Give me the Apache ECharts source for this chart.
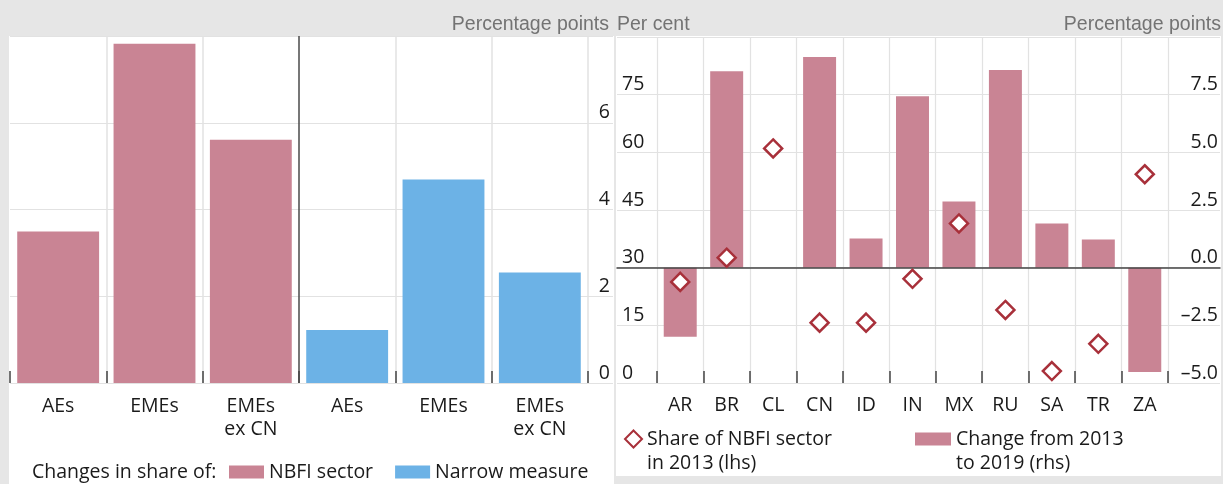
<!DOCTYPE html>
<html><head><meta charset="utf-8">
<script src="https://cdn.jsdelivr.net/npm/echarts@6/dist/echarts.min.js"></script>
<style>html,body{margin:0;padding:0;background:#e6e6e6}#c{width:1223px;height:484px}</style>
</head><body><div id="c"></div>
<script>
// ---- data ----
const leftCategories = ['AEs', 'EMEs', 'EMEs\nex CN', 'AEs', 'EMEs', 'EMEs\nex CN'];
const nbfiChange = [3.49, 7.82, 5.61, null, null, null];
const narrowChange = [null, null, null, 1.22, 4.69, 2.55];
const leftTickValues = [0, 2, 4, 6, 8];

const countries = ['AR', 'BR', 'CL', 'CN', 'ID', 'IN', 'MX', 'RU', 'SA', 'TR', 'ZA'];
const share2013 = [26.3, 32.6, 61.0, 15.7, 15.7, 27.1, 41.5, 19.0, 3.1, 10.2, 54.3];
const change2013to2019 = [-3.0, 8.52, null, 9.13, 1.26, 7.43, 2.87, 8.57, 1.91, 1.22, -4.52];
const lhsTickValues = [0, 15, 30, 45, 60, 75, 90];
const rhsTickValues = [-5, -2.5, 0, 2.5, 5, 7.5, 10];

// ---- style ----
const FONT = "'Open Sans', sans-serif";
const HFONT = "'Liberation Sans', Arial, sans-serif";
const PINK = '#c98494', BLUE = '#6cb2e6', DIAMOND = '#a8303a';
const GRID_L = '#e2e2e2', TXT = '#1a1a1a';
const FS = 19.5;
const first = a => a[0], last = a => a[a.length - 1];
const step = a => a[1] - a[0];
const fmtDash = v => (v < 0 ? '\u2013' + Math.abs(v).toFixed(1) : v.toFixed(1));

const lblBase = { color: TXT, fontFamily: FONT, fontSize: FS };
const tickStyle = { show: true, inside: true, length: 12, interval: 0, lineStyle: { color: '#444', width: 1.5 } };

const chart = echarts.init(document.getElementById('c'), null, { renderer: 'canvas' });
chart.setOption({
  backgroundColor: '#e6e6e6',
  animation: false,
  graphic: [
    { type: 'rect', z: -10, silent: true, shape: { x: 9, y: 36, width: 605, height: 448 }, style: { fill: '#fff' } },
    { type: 'rect', z: -10, silent: true, shape: { x: 616, y: 36, width: 605, height: 440 }, style: { fill: '#fff' } },
    { type: 'text', silent: true, style: { text: 'Percentage points', x: 609, y: 25, align: 'right', textAlign: 'right', verticalAlign: 'middle', textVerticalAlign: 'middle', font: '19.5px ' + HFONT, fill: '#737373' } },
    { type: 'text', silent: true, style: { text: 'Per cent', x: 617, y: 25, align: 'left', textAlign: 'left', verticalAlign: 'middle', textVerticalAlign: 'middle', font: '19.5px ' + HFONT, fill: '#737373' } },
    { type: 'text', silent: true, style: { text: 'Percentage points', x: 1221, y: 25, align: 'right', textAlign: 'right', verticalAlign: 'middle', textVerticalAlign: 'middle', font: '19.5px ' + HFONT, fill: '#737373' } },
    { type: 'text', silent: true, style: { text: 'Changes in share of:', x: 32, y: 472, align: 'left', textAlign: 'left', verticalAlign: 'middle', textVerticalAlign: 'middle', font: FS + 'px ' + FONT, fill: TXT } }
  ],
  grid: [
    { left: 10, top: 36, width: 603, height: 347 },   // 0: left panel gridlines
    { left: 10, top: 36, width: 578, height: 347 },   // 1: left panel data
    { left: 617, top: 37, width: 603, height: 346 },  // 2: right panel gridlines + zero line
    { left: 657, top: 37, width: 511, height: 346 }   // 3: right panel data
  ],
  xAxis: [
    { type: 'value', gridIndex: 0, min: 0, max: 1, show: false },
    { type: 'category', gridIndex: 1, data: leftCategories, boundaryGap: true,
      axisLine: { show: false }, axisTick: tickStyle,
      axisLabel: Object.assign({ margin: 12, lineHeight: 23, interval: 0 }, lblBase),
      splitLine: { show: true, interval: 0, lineStyle: { color: ['rgba(0,0,0,0)', GRID_L, GRID_L, '#4a4a4a', GRID_L, GRID_L, GRID_L], width: 1.5 } } },
    { type: 'value', gridIndex: 2, min: 0, max: 1, z: 5,
      axisLine: { show: true, onZero: true, lineStyle: { color: '#444', width: 1.5 } },
      axisTick: { show: false }, axisLabel: { show: false }, splitLine: { show: false } },
    { type: 'category', gridIndex: 3, data: countries, boundaryGap: true,
      axisLine: { show: false }, axisTick: tickStyle,
      axisLabel: Object.assign({ margin: 12, interval: 0 }, lblBase),
      splitLine: { show: true, interval: 0, lineStyle: { color: GRID_L, width: 1.2 } } }
  ],
  yAxis: [
    { type: 'value', gridIndex: 0, min: first(leftTickValues), max: last(leftTickValues), interval: step(leftTickValues),
      axisLabel: { show: false }, axisLine: { show: false }, axisTick: { show: false },
      splitLine: { show: true, lineStyle: { color: GRID_L, width: 1.2 } } },
    { type: 'value', gridIndex: 1, position: 'right', min: first(leftTickValues), max: last(leftTickValues), interval: step(leftTickValues),
      axisLine: { show: false }, axisTick: { show: false }, splitLine: { show: false },
      axisLabel: Object.assign({ align: 'right', margin: 22, verticalAlign: 'bottom',
        formatter: v => (v === last(leftTickValues) ? '' : String(v)) }, lblBase) },
    { type: 'value', gridIndex: 2, min: first(rhsTickValues), max: last(rhsTickValues), interval: step(rhsTickValues),
      axisLabel: { show: false }, axisLine: { show: false }, axisTick: { show: false },
      splitLine: { show: true, lineStyle: { color: GRID_L, width: 1.2 } } },
    { type: 'value', gridIndex: 3, position: 'left', min: first(lhsTickValues), max: last(lhsTickValues), interval: step(lhsTickValues),
      axisLine: { show: false }, axisTick: { show: false }, splitLine: { show: false },
      axisLabel: Object.assign({ align: 'left', margin: 35, verticalAlign: 'bottom',
        formatter: v => (v === last(lhsTickValues) ? '' : String(v)) }, lblBase) },
    { type: 'value', gridIndex: 3, position: 'right', min: first(rhsTickValues), max: last(rhsTickValues), interval: step(rhsTickValues),
      axisLine: { show: false }, axisTick: { show: false }, splitLine: { show: false },
      axisLabel: Object.assign({ align: 'right', margin: 50, verticalAlign: 'bottom',
        formatter: v => (v === last(rhsTickValues) ? '' : fmtDash(v)) }, lblBase) }
  ],
  legend: [
    { data: ['NBFI sector', 'Narrow measure'], left: 229, top: 462, padding: 0, itemWidth: 35, itemHeight: 13, itemGap: 22,
      icon: 'rect', selectedMode: false, textStyle: { fontFamily: FONT, fontSize: FS, color: TXT } },
    { data: ['Share of NBFI sector\nin 2013 (lhs)'], left: 624, top: 403, padding: 0, itemWidth: 17, itemHeight: 17,
      selectedMode: false, formatter: n => '\n' + n,
      textStyle: { fontFamily: FONT, fontSize: FS, color: TXT, lineHeight: 24 } },
    { data: ['Change from 2013\nto 2019 (rhs)'], left: 915, top: 403, padding: 0, itemWidth: 36, itemHeight: 13, icon: 'rect',
      selectedMode: false, formatter: n => '\n' + n,
      textStyle: { fontFamily: FONT, fontSize: FS, color: TXT, lineHeight: 24 } }
  ],
  series: [
    { name: 'NBFI sector', type: 'bar', xAxisIndex: 1, yAxisIndex: 1, data: nbfiChange, barWidth: '85%', barGap: '-100%', itemStyle: { color: PINK } },
    { name: 'Narrow measure', type: 'bar', xAxisIndex: 1, yAxisIndex: 1, data: narrowChange, barWidth: '85%', barGap: '-100%', itemStyle: { color: BLUE } },
    { name: 'Change from 2013\nto 2019 (rhs)', type: 'bar', xAxisIndex: 3, yAxisIndex: 4, data: change2013to2019, barWidth: '71%', itemStyle: { color: PINK } },
    { name: 'Share of NBFI sector\nin 2013 (lhs)', type: 'scatter', xAxisIndex: 3, yAxisIndex: 3, data: share2013, z: 6,
      symbol: 'diamond', symbolSize: 18, itemStyle: { color: '#fff', borderColor: DIAMOND, borderWidth: 2.5, opacity: 1 } }
  ]
});
</script></body></html>
